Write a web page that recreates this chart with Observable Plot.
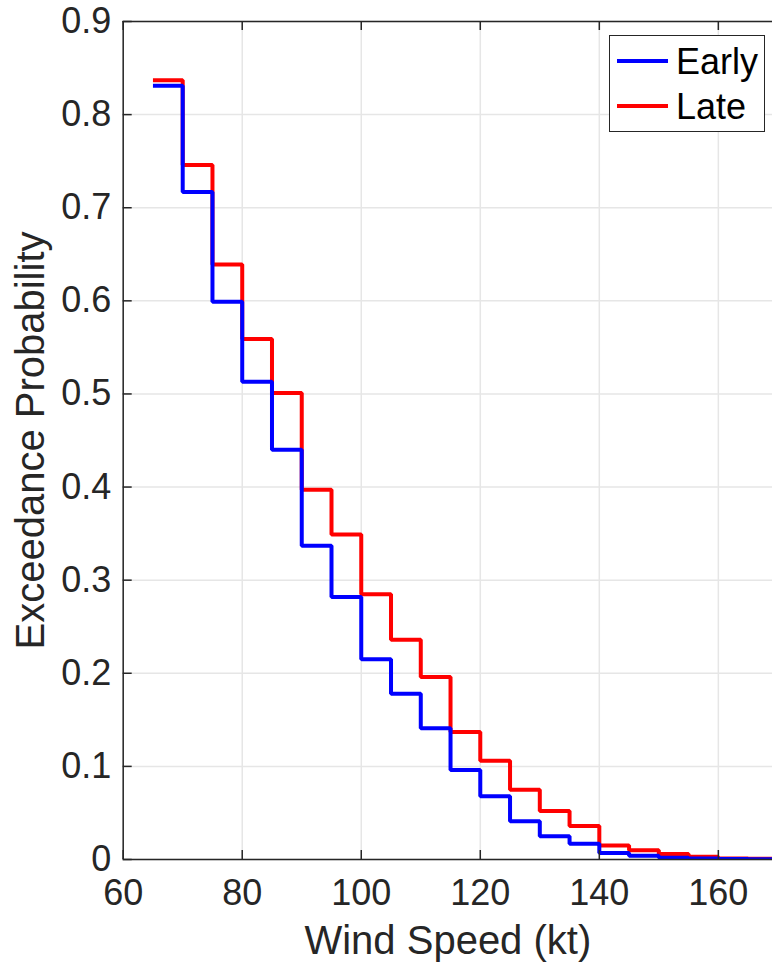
<!DOCTYPE html>
<html>
<head>
<meta charset="utf-8">
<script src="https://cdn.jsdelivr.net/npm/d3@7"></script>
<script src="https://cdn.jsdelivr.net/npm/@observablehq/plot@0.6"></script>
<style>
  html, body { margin: 0; padding: 0; background: #fff; }
  #wrap { position: relative; width: 772px; height: 972px; overflow: hidden; }
  #legend { position: absolute; left: 609px; top: 35px; }
</style>
</head>
<body>
<div id="wrap"><div id="chart"></div><div id="legend"></div></div>
<script>
// Bin edges (kt) – each value applies from its edge to the next edge
const binEdges = [65, 70, 75, 80, 85, 90, 95, 100, 105, 110, 115, 120, 125, 130, 135, 140, 145, 150, 155, 160, 165, 170];
const earlyValues = [0.831, 0.717, 0.599, 0.513, 0.440, 0.337, 0.282, 0.215, 0.178, 0.141, 0.096, 0.068, 0.041, 0.025, 0.017, 0.007, 0.004, 0.002, 0.001, 0.0005, 0.0003];
const lateValues  = [0.837, 0.746, 0.639, 0.559, 0.501, 0.397, 0.349, 0.285, 0.236, 0.196, 0.137, 0.106, 0.075, 0.052, 0.036, 0.015, 0.010, 0.006, 0.003, 0.001, 0.0008];
const seriesNames = ["Early", "Late"];
const seriesColors = ["#0000ff", "#ff0000"];
const xTicks = [60, 80, 100, 120, 140, 160];
const yTicks = [0, 0.1, 0.2, 0.3, 0.4, 0.5, 0.6, 0.7, 0.8, 0.9];
const xLabel = "Wind Speed (kt)";
const yLabel = "Exceedance Probability";

function stepData(vals) {
  return binEdges.map((e, i) => ({x: e, y: vals[Math.min(i, vals.length - 1)]}));
}
const early = stepData(earlyValues);
const late = stepData(lateValues);

const W = 772, H = 972;
const mL = 122.7, mR = 0, mT = 21, mB = 113;
const plotW = W - mL - mR, plotH = H - mT - mB;
const axisColor = "#262626";
const font = "'Liberation Sans', Arial, Helvetica, sans-serif";

const chart = Plot.plot({
  width: W, height: H,
  marginLeft: mL, marginRight: mR, marginTop: mT, marginBottom: mB,
  x: {domain: [60, 169.1]},
  y: {domain: [0, 0.9]},
  style: {fontFamily: font, fontSize: "36px", color: axisColor, background: "white"},
  marks: [
    Plot.gridX(xTicks, {stroke: "#e6e6e6", strokeOpacity: 1, strokeWidth: 1.5}),
    Plot.gridY(yTicks, {stroke: "#e6e6e6", strokeOpacity: 1, strokeWidth: 1.5}),
    Plot.line(late, {x: "x", y: "y", curve: "step-after", stroke: seriesColors[1], strokeWidth: 4, strokeLinejoin: "miter", strokeLinecap: "butt", clip: true}),
    Plot.line(early, {x: "x", y: "y", curve: "step-after", stroke: seriesColors[0], strokeWidth: 4, strokeLinejoin: "miter", strokeLinecap: "butt", clip: true}),
    Plot.ruleY([0, 0.9], {stroke: axisColor, strokeWidth: 1.5}),
    Plot.ruleX([60], {stroke: axisColor, strokeWidth: 1.5}),
    Plot.tickX(xTicks, {x: d => d, insetTop: plotH - 9, stroke: axisColor, strokeWidth: 1.5}),
    Plot.tickX(xTicks, {x: d => d, insetBottom: plotH - 9, stroke: axisColor, strokeWidth: 1.5}),
    Plot.tickY(yTicks, {y: d => d, insetRight: plotW - 9, stroke: axisColor, strokeWidth: 1.5}),
    Plot.axisX(xTicks, {tickSize: 0, tickPadding: 20, label: null, fontSize: 36, fill: axisColor}),
    Plot.axisY(yTicks, {tickSize: 0, tickPadding: 12, label: null, fontSize: 36, fill: axisColor, tickFormat: d => d === 0 ? "0" : d3.format(".1f")(d)}),
    Plot.text([xLabel], {text: d => d, frameAnchor: "bottom", textAnchor: "middle", lineAnchor: "middle", dy: 81.5, fontSize: 40, fill: axisColor}),
    Plot.text([yLabel], {text: d => d, frameAnchor: "left", textAnchor: "middle", lineAnchor: "middle", rotate: -90, dx: -92, fontSize: 40, fill: axisColor})
  ]
});
document.getElementById("chart").appendChild(chart);

// Legend (box with line samples)
const lg = d3.select("#legend").append("svg")
  .attr("width", 156).attr("height", 97)
  .style("font-family", font);
lg.append("rect").attr("x", 0.5).attr("y", 0.5).attr("width", 155).attr("height", 96)
  .attr("fill", "white").attr("stroke", axisColor).attr("stroke-width", 1);
seriesNames.forEach((name, i) => {
  const cy = 26 + i * 45;
  lg.append("line").attr("x1", 8).attr("x2", 59).attr("y1", cy).attr("y2", cy)
    .attr("stroke", seriesColors[i]).attr("stroke-width", 4);
  lg.append("text").attr("x", 67).attr("y", cy + 12.5).attr("font-size", 36).attr("fill", "#000").text(name);
});
</script>
</body>
</html>
